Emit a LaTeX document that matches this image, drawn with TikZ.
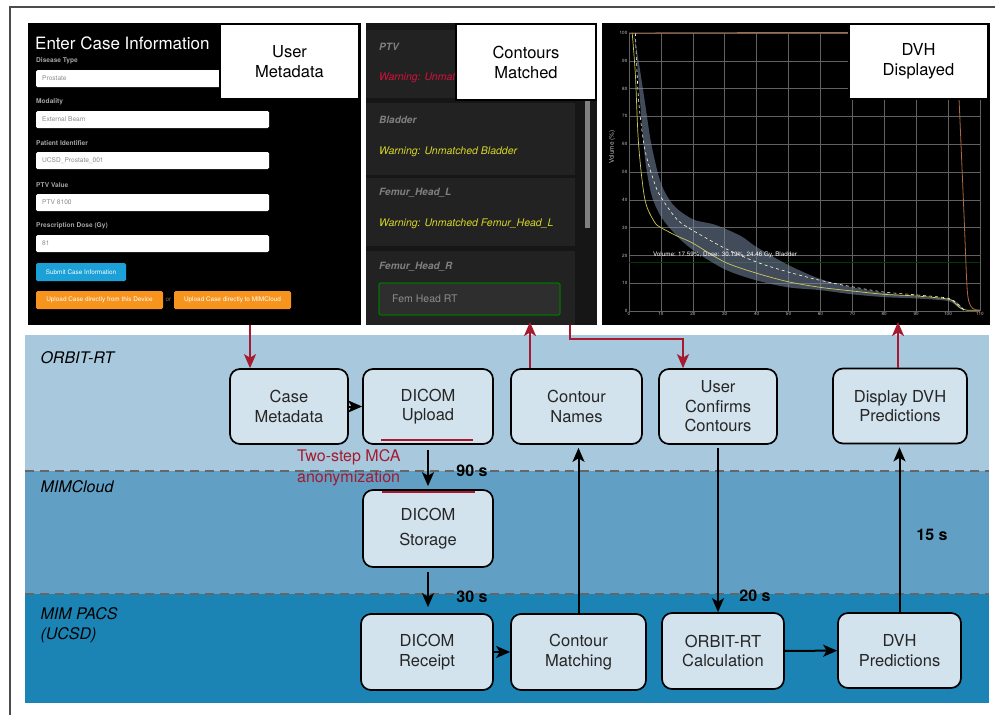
\documentclass[tikz,border=0pt]{standalone}
\usepackage{fontspec}
\setmainfont{TeX Gyre Heros}
\usepackage{tikz}
\usetikzlibrary{arrows.meta}
\usetikzlibrary{positioning}

\definecolor{laneA}{RGB}{168,201,221}
\definecolor{laneB}{RGB}{97,160,196}
\definecolor{laneC}{RGB}{28,132,180}
\definecolor{boxfill}{RGB}{211,227,238}
\definecolor{mcared}{RGB}{166,25,46}
\definecolor{btnblue}{RGB}{27,160,216}
\definecolor{btnorange}{RGB}{247,148,29}
\definecolor{warnyellow}{RGB}{214,214,40}
\definecolor{warnred}{RGB}{214,16,58}
\definecolor{dvhorange}{RGB}{170,105,65}
\definecolor{dvhyellow}{RGB}{205,200,90}
\definecolor{bandgray}{RGB}{120,138,165}
\definecolor{cardgray}{RGB}{34,34,34}
\definecolor{panelgray}{RGB}{22,22,22}

\begin{document}
\begin{tikzpicture}[x=1pt, y=-1pt]
\tikzstyle{stepbox} = [draw, line width=1.7pt, rounded corners=10pt, fill=boxfill, align=center, inner sep=0pt, text=black!85, font=\fontsize{16.5}{19.5}\selectfont]
\tikzstyle{tagbox} = [draw, line width=1.4pt, fill=white, align=center, minimum width=139pt, minimum height=75pt, font=\fontsize{16.5}{20}\selectfont]
\tikzstyle{flow} = [line width=2pt, -{Stealth[length=14pt, width=12pt, inset=3.5pt]}]
\tikzstyle{redflow} = [flow, draw=mcared]
\tikzstyle{secs} = [font=\bfseries\fontsize{16}{19}\selectfont]
\tikzstyle{lane} = [anchor=west, align=left, font=\itshape\fontsize{16}{20}\selectfont]
\tikzstyle{formlbl} = [anchor=west, inner sep=0pt, text=black!35, font=\bfseries\fontsize{6.6}{8}\selectfont]
\tikzstyle{formval} = [anchor=west, inner sep=0pt, text=black!45, font=\fontsize{6.6}{8}\selectfont]
\tikzstyle{btntext} = [text=white, inner sep=0pt, font=\fontsize{6.4}{8}\selectfont]
\tikzstyle{ctrname} = [anchor=west, inner sep=0pt, text=black!50, font=\bfseries\itshape\fontsize{10}{12}\selectfont]
\tikzstyle{ctrwarn} = [anchor=west, inner sep=0pt, font=\itshape\fontsize{10.5}{12}\selectfont]
\tikzstyle{dvhgrid} = [black!62, line width=0.5pt]
\tikzstyle{dvhtick} = [text=black!25, inner sep=1.5pt, font=\fontsize{4.6}{5}\selectfont]

\useasboundingbox (0,0) rectangle (995,715);
\fill[white] (0,0) rectangle (995,715);
\draw[line width=1.5pt, black!70] (995,7) -- (10,7) -- (10,715);

% form screenshot
\fill[black] (28,23) rectangle (361,325);
\node[anchor=west, inner sep=0pt, text=white, font=\fontsize{17}{20}\selectfont] (title) at (35,43) {Enter Case Information};
\foreach \lbl/\val/\y in {Disease Type/Prostate/61, Modality/External Beam/102, Patient Identifier/UCSD\_Prostate\_001/143, PTV Value/PTV 8100/185, {Prescription Dose (Gy)}/81/226} {
  \node[formlbl] (lbl\y) at (36,\y) {\lbl};
  \fill[white, rounded corners=1.5pt] (36,\y+9) rectangle (269,\y+26);
  \node[formval] (val\y) at (42,\y+17.5) {\val};
}
\fill[btnblue, rounded corners=1.5pt] (36,263) rectangle (126,281);
\node[btntext] (submit) at (81,272) {Submit Case Information};
\fill[btnorange, rounded corners=1.5pt] (36,291) rectangle (163,309);
\node[btntext] (upldev) at (99.5,300) {Upload Case directly from this Device};
\node[btntext, text=black!55] (orword) at (168.5,300) {or};
\fill[btnorange, rounded corners=1.5pt] (174,291) rectangle (291,309);
\node[btntext] (uplcloud) at (232.5,300) {Upload Case directly to MIMCloud};

% contour screenshot
\fill[panelgray] (366,23) rectangle (597,325);
\foreach \top/\bot in {30/98, 103/175, 178/246, 251/325}
  \fill[cardgray] (366,\top) rectangle (575,\bot);
\fill[black!50] (585,100) rectangle (590,228);
\foreach \nm/\y in {PTV/47, Bladder/120, Femur\_Head\_L/193, Femur\_Head\_R/267}
  \node[ctrname] (nm\y) at (379,\y) {\nm};
\begin{scope}
\clip (366,60) rectangle (456,95);
\node[ctrwarn, text=warnred] (warnptv) at (379,78) {Warning: Unmatched PTV};
\end{scope}
\node[ctrwarn, text=warnyellow] (warnbl) at (379,152) {Warning: Unmatched Bladder};
\node[ctrwarn, text=warnyellow] (warnfl) at (379,224) {Warning: Unmatched Femur\_Head\_L};
\draw[green!45!black, line width=1.2pt, fill=black!82, rounded corners=2pt] (379,283) rectangle (560,315);
\node[ctrwarn, font=\fontsize{10.5}{12}\selectfont, text=black!45] (femrt) at (392,299) {Fem Head RT};

% DVH screenshot
\fill[black] (602,23) rectangle (990,325);
\begin{scope}[shift={(629,311)}, x=3.19pt, y=2.78pt]
\foreach \g in {0,10,...,110} {
  \draw[dvhgrid] (\g,0) -- (\g,100);
  \node[dvhtick, below] (xt\g) at (\g,0) {\g};
}
\foreach \g in {0,10,...,100} {
  \draw[dvhgrid] (0,\g) -- (110,\g);
  \node[dvhtick, left] (yt\g) at (0,\g) {\g};
}
\draw[green!22!black, line width=0.6pt] (0,17.6) -- (110,17.6);
\fill[bandgray, opacity=0.55] plot[smooth] coordinates {(1.5,100) (3,90) (5,75) (7,60) (10,46) (14,38) (20,33) (27,31) (35,27) (40,23) (50,16.5) (60,11.5) (70,8.5) (80,6.5) (90,5.2) (100,4.3) (103,3) (105,0.3)}
  -- plot[smooth] coordinates {(105,0) (103,1.5) (100,3.6) (90,4.5) (80,5) (70,6) (60,7.5) (50,8.5) (40,11) (30,15) (20,22) (15,27) (10,34) (7,42) (5,55) (3.5,75) (2.5,90) (1.5,100)} -- cycle;
\draw[dvhyellow, line width=0.7pt] plot[smooth] coordinates {(1,100) (2,85) (3,60) (5,40) (8,32) (10,30) (15,27) (20,24.4) (30,17.6) (40,13.6) (50,10.5) (60,8.5) (70,7.2) (80,6) (90,5.4) (100,4.3) (102,3) (104,1) (106,0.3) (110,0.3)};
\draw[white!85!yellow, dashed, line width=0.6pt] plot[smooth] coordinates {(2,100) (3,76) (5,58) (8,46) (10,41) (15,33) (20,29) (30,22.6) (40,17.6) (50,14) (60,11) (70,8.7) (80,6.8) (90,5.8) (100,4.6) (103,2.5) (105,0.5) (106,0)};
\draw[dvhorange, line width=0.8pt] plot[smooth] coordinates {(0,100) (101.5,100) (102.5,97) (103.5,75) (105,35) (106,8) (107,2) (108.5,0.5) (110,0.3)};
\node[rotate=90, text=black!25, font=\fontsize{6.5}{8}\selectfont] (vollbl) at (-5.3,59) {Volume (\%)};
\node[text=white, inner sep=0pt, font=\fontsize{6.3}{8}\selectfont] (hover) at (30.1,20.1) {Volume: 17.59\%, Dose: 30.19\%, 24.46 Gy, Bladder};
\end{scope}

% labels on the screenshots
\node[tagbox] (tagmeta) at (289.5,61.5) {User\\Metadata};
\node[tagbox, minimum width=140pt, minimum height=76pt] (tagctr) at (526,62) {Contours\\Matched};
\node[tagbox] (tagdvh) at (918.5,61.5) {DVH\\Displayed};

% swim lanes
\fill[laneA] (25,335) rectangle (989,471);
\fill[laneB] (25,471) rectangle (989,594);
\fill[laneC] (25,594) rectangle (989,703);
\draw[black!60, line width=1.2pt, dash pattern=on 9pt off 6pt] (25,471) -- (989,471);
\draw[black!60, line width=1.2pt, dash pattern=on 9pt off 6pt] (25,594) -- (989,594);
\node[lane] (orbit) at (37,358) {ORBIT-RT};
\node[lane] (cloud) at (37,487) {MIMCloud};
\node[lane] (pacs) at (37,625) {MIM PACS\\(UCSD)};

% steps
\node[stepbox, minimum width=118pt, minimum height=75pt] (meta) at (289,406.5) {Case\\Metadata};
\node[stepbox, minimum width=130pt, minimum height=75pt] (upload) at (428,406.5) {DICOM\\Upload};
\node[stepbox, minimum width=131pt, minimum height=75pt] (cnames) at (576.5,406.5) {Contour\\Names};
\node[stepbox, minimum width=118pt, minimum height=75pt] (confirm) at (718,406.5) {User\\Confirms\\Contours};
\node[stepbox, minimum width=134pt, minimum height=75pt] (display) at (900,406) {Display DVH\\Predictions};
\node[stepbox, minimum width=130pt, minimum height=77pt] (storage) at (428,528.5) {DICOM\\[5pt]Storage};
\node[stepbox, minimum width=132pt, minimum height=76pt] (receipt) at (427,652) {DICOM\\Receipt};
\node[stepbox, minimum width=135pt, minimum height=76pt] (cmatch) at (578.5,652) {Contour\\Matching};
\node[stepbox, minimum width=122pt, minimum height=76pt] (calc) at (723,651) {ORBIT-RT\\Calculation};
\node[stepbox, minimum width=123pt, minimum height=75pt] (dvhpred) at (899.5,650.5) {DVH\\Predictions};

% data flow
\draw[flow] (meta) -- (upload);
\draw[flow, shorten <=5pt, shorten >=3pt] (upload.south) -- (upload.south |- storage.north);
\draw[flow, shorten <=4pt, shorten >=6pt] (storage.south) -- (storage.south |- receipt.north);
\draw[flow] (receipt) -- (cmatch);
\draw[flow, shorten >=3pt] (cmatch.north) -- (cmatch.north |- cnames.south);
\draw[flow, shorten <=3pt] (confirm.south) -- (confirm.south |- calc.north);
\draw[flow] (calc) -- (dvhpred);
\draw[flow, shorten >=3pt] (dvhpred.north) -- (dvhpred.north |- display.south);

% user interface links
\coordinate (formout) at (250,325);
\coordinate (ctrin) at (530,322);
\coordinate (ctrout) at (570,325);
\coordinate (bend) at (683,339);
\coordinate (dvhin) at (898,322);
\draw[redflow] (formout) -- (formout |- meta.north);
\draw[redflow] (ctrin |- cnames.north) -- (ctrin);
\draw[redflow] (ctrout) |- (bend) -- (bend |- confirm.north);
\draw[redflow] (dvhin |- display.north) -- (dvhin);

% anonymization
\draw[mcared, line width=2.5pt] (381,440) -- (473,440);
\draw[mcared, line width=2.5pt] (382,492) -- (475,492);
\node[anchor=west, text=mcared, align=left, inner sep=0pt, font=\fontsize{16}{21}\selectfont] (anon) at (297,468) {Two-step MCA\\anonymization};

% timings
\node[secs] (t90) at (472,471) {90 s};
\node[secs] (t30) at (472,597) {30 s};
\node[secs] (t20) at (755,596) {20 s};
\node[secs] (t15) at (932,535) {15 s};
\end{tikzpicture}
\end{document}
